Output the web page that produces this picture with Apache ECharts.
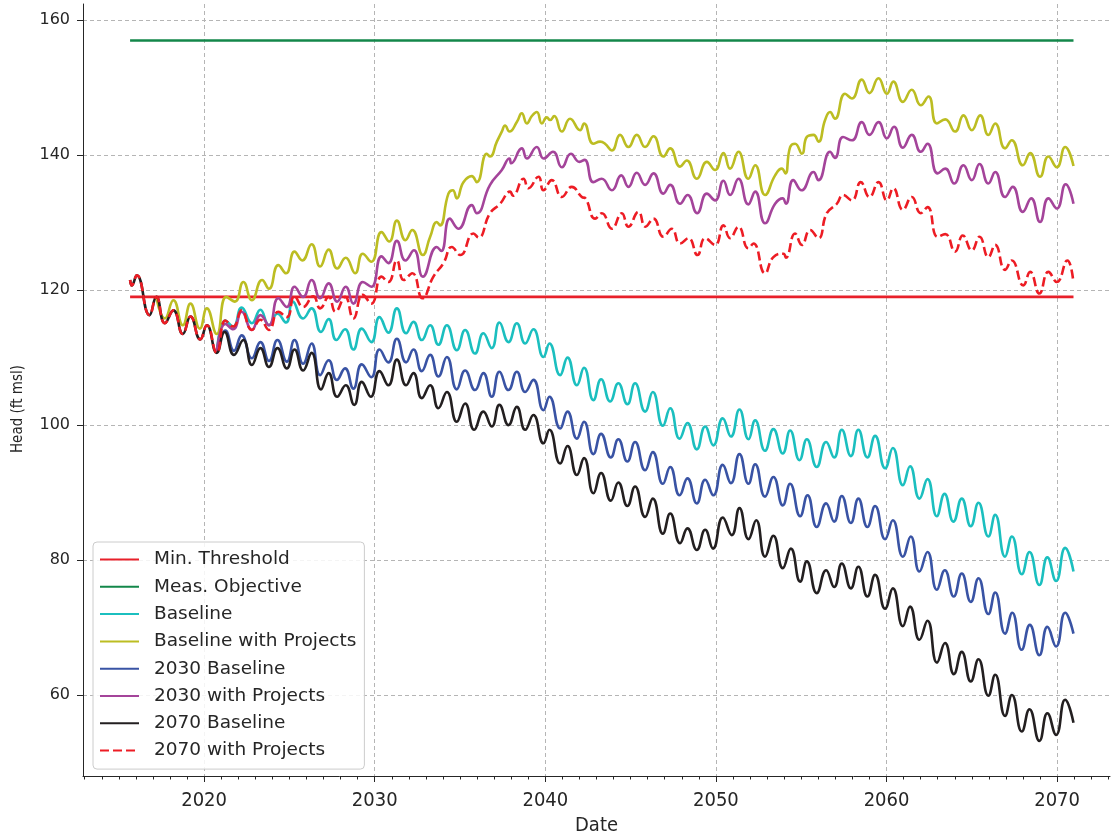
<!DOCTYPE html>
<html>
<head>
<meta charset="utf-8">
<title>Head</title>
<script src="https://cdn.jsdelivr.net/npm/echarts@6/dist/echarts.min.js"></script>
<style>
  html, body { margin: 0; padding: 0; background: #fff; }
  #chart { width: 1112px; height: 835px; }
</style>
</head>
<body>
<div id="chart"></div>
<script>
var xTicks = [2020, 2030, 2040, 2050, 2060, 2070]
var yTicks = [60, 80, 100, 120, 140, 160]
var yearTicks = []
for (var yr = 2013; yr <= 2073; yr++) yearTicks.push(yr)

var lineSpan = [2015.66, 2070.96]
var minThreshold = 119.0
var measObjective = 157.0

// shared measured record, used by both 2070 runs
var pastHeads = [[2015.66,121.5],[2015.76,120.7],[2016.05,122.2],[2016.8,116.3],[2017.2,119.0],[2017.7,115.1],
  [2018.2,117.0],[2018.75,113.5],[2019.2,116.1],[2019.77,112.7],[2020.16,114.8],[2020.74,110.7]]

var baseline = [[2020.74,110.7],[2021.25,115.5],[2021.7,114.6],[2022.2,117.4],[2022.8,115.1],[2023.3,117.1],[2023.8,114.8],
  [2024.3,116.5],[2024.8,115.2],[2025.2,118.3],[2025.8,115.8],[2026.3,117.3],[2026.85,113.8],[2027.3,115.7],[2027.75,112.6],
  [2028.26,114.2],[2028.75,111.2],[2029.24,114.3],[2029.8,112.3],[2030.28,116.0],[2030.8,113.7],[2031.3,117.3],[2031.84,113.6],
  [2032.27,115.3],[2032.76,112.6],[2033.25,114.8],[2033.73,111.9],[2034.23,114.8],[2034.81,111.1],[2035.3,114.1],[2035.88,110.6],
  [2036.37,113.6],[2036.86,111.4],[2037.31,115.2],[2037.84,112.3],[2038.33,115.1],[2038.82,112.1],[2039.3,114.2],[2039.89,110.1],
  [2040.24,112.1],[2040.87,107.4],[2041.3,110.0],[2041.85,105.9],[2042.27,108.5],[2042.82,103.7],[2043.27,106.8],[2043.8,103.5],
  [2044.28,106.2],[2044.81,103.1],[2045.26,106.2],[2045.85,102.0],[2046.3,104.9],[2046.89,99.9],[2047.32,102.5],[2047.87,98.0],
  [2048.33,100.3],[2048.88,96.4],[2049.37,99.8],[2049.85,97.0],[2050.4,101.0],[2050.88,98.3],[2051.38,102.3],[2051.91,97.9],
  [2052.3,100.7],[2052.88,96.2],[2053.37,99.4],[2053.92,95.8],[2054.35,99.2],[2054.9,94.8],[2055.33,97.9],[2055.91,93.8],
  [2056.46,97.5],[2056.93,95.2],[2057.38,99.3],[2057.91,95.4],[2058.35,99.3],[2058.88,95.2],[2059.33,98.4],[2059.92,93.6],
  [2060.37,96.6],[2060.96,91.1],[2061.38,93.9],[2061.93,89.1],[2062.4,92.0],[2062.95,86.5],[2063.4,89.8],[2063.92,85.7],
  [2064.41,89.1],[2064.94,85.0],[2065.39,88.5],[2065.97,83.5],[2066.37,86.7],[2066.95,80.5],[2067.35,83.5],[2067.93,77.9],
  [2068.38,81.2],[2068.96,76.3],[2069.43,80.4],[2069.94,76.9],[2070.47,81.8],[2070.96,78.3]]

var baselineProj = [[2017.2,119.0],[2017.7,115.8],[2018.2,118.5],[2018.75,114.8],[2019.2,118.0],[2019.75,114.3],[2020.16,117.3],
  [2020.74,113.5],[2021.3,119.0],[2021.8,118.3],[2022.3,121.2],[2022.8,118.5],[2023.4,121.5],[2023.8,120.2],[2024.35,123.7],
  [2024.8,122.5],[2025.3,125.7],[2025.75,124.4],[2026.3,126.8],[2026.8,123.5],[2027.3,126.0],[2027.8,123.2],[2028.3,124.8],
  [2028.85,122.5],[2029.3,125.4],[2029.8,124.2],[2030.4,128.6],[2030.85,127.2],[2031.3,130.3],[2031.8,127.4],[2032.2,128.9],
  [2032.82,125.2],[2033.25,127.9],[2033.64,130.1],[2033.83,129.6],[2034.32,134.3],[2034.58,134.8],[2034.81,133.6],[2035.2,136.0],
  [2035.69,136.9],[2035.98,136.0],[2036.57,140.2],[2036.76,139.8],[2037.16,142.0],[2037.45,143.5],[2037.64,144.4],[2037.9,143.5],
  [2038.33,144.9],[2038.62,146.2],[2038.92,144.7],[2039.21,145.8],[2039.5,146.4],[2039.8,144.7],[2040.09,145.6],[2040.28,145.2],
  [2040.52,145.8],[2040.97,143.5],[2041.45,145.4],[2042.04,143.7],[2042.27,144.7],[2042.82,141.7],[2043.21,142.0],[2043.5,141.7],
  [2043.9,140.7],[2044.38,143.0],[2044.87,141.2],[2045.36,143.0],[2045.85,141.2],[2046.34,142.8],[2046.92,139.8],[2047.32,141.0],
  [2047.9,138.3],[2048.29,139.2],[2048.88,136.5],[2049.47,139.0],[2049.95,137.8],[2050.44,140.3],[2050.83,138.0],[2051.32,140.5],
  [2051.9,136.5],[2052.3,138.5],[2052.88,134.1],[2053.47,137.0],[2053.86,138.0],[2054.07,137.3],[2054.35,141.2],[2054.64,141.7],
  [2055.04,140.2],[2055.33,142.7],[2055.72,143.0],[2056.01,142.0],[2056.4,145.2],[2056.69,146.4],[2056.98,145.4],[2057.57,149.1],
  [2057.97,148.4],[2058.55,151.2],[2059.0,149.2],[2059.53,151.4],[2060.02,149.1],[2060.4,150.9],[2060.96,147.9],[2061.48,149.7],
  [2062.01,147.4],[2062.46,148.7],[2062.95,144.7],[2063.44,145.3],[2064.02,143.5],[2064.51,145.9],[2065.0,143.7],[2065.49,145.9],
  [2065.97,143.0],[2066.37,144.7],[2066.95,141.0],[2067.34,142.2],[2067.99,138.5],[2068.42,140.3],[2069.0,136.8],[2069.49,139.8],
  [2069.98,138.2],[2070.47,141.2],[2070.96,138.4]]

var base2030 = [[2020.74,110.7],[2021.25,114.0],[2021.75,111.0],[2022.2,113.3],[2022.8,109.9],[2023.3,112.3],[2023.8,109.5],
  [2024.3,112.6],[2024.85,109.4],[2025.3,112.6],[2025.8,109.1],[2026.3,112.1],[2026.8,107.4],[2027.3,109.6],[2027.78,106.7],
  [2028.26,108.4],[2028.75,105.4],[2029.24,109.0],[2029.8,107.1],[2030.28,111.2],[2030.8,109.3],[2031.3,112.8],[2031.84,109.3],
  [2032.27,111.2],[2032.76,108.0],[2033.25,110.4],[2033.73,107.2],[2034.23,110.1],[2034.81,105.3],[2035.3,108.1],[2035.88,105.2],
  [2036.37,107.7],[2036.86,104.2],[2037.31,107.9],[2037.84,105.2],[2038.33,107.9],[2038.82,104.9],[2039.3,106.7],[2039.89,102.2],
  [2040.24,104.2],[2040.87,99.5],[2041.3,102.0],[2041.85,98.0],[2042.27,100.5],[2042.82,95.7],[2043.27,98.7],[2043.84,95.2],
  [2044.28,97.9],[2044.81,94.6],[2045.26,97.5],[2045.85,93.3],[2046.3,96.0],[2046.89,91.3],[2047.32,93.8],[2047.87,89.6],
  [2048.33,92.1],[2048.88,88.4],[2049.37,91.9],[2049.85,89.6],[2050.4,94.1],[2050.88,91.4],[2051.38,95.7],[2051.91,91.3],
  [2052.3,94.2],[2052.88,89.4],[2053.37,92.3],[2053.92,88.1],[2054.35,91.3],[2054.94,86.5],[2055.37,89.6],[2055.91,84.9],
  [2056.46,88.4],[2056.93,85.7],[2057.38,89.5],[2057.91,85.5],[2058.35,89.1],[2058.88,84.9],[2059.33,88.0],[2059.92,83.1],
  [2060.37,85.9],[2060.96,80.5],[2061.42,83.5],[2061.93,78.3],[2062.4,81.2],[2062.95,75.6],[2063.42,78.5],[2063.94,74.6],
  [2064.41,78.0],[2064.94,73.8],[2065.39,77.3],[2065.97,72.0],[2066.37,75.2],[2066.95,69.1],[2067.37,72.2],[2067.92,66.7],
  [2068.4,70.4],[2068.96,65.9],[2069.43,70.1],[2069.94,67.2],[2070.47,72.2],[2070.96,69.1]]

var proj2030 = [[2020.74,110.7],[2021.25,115.0],[2021.7,114.2],[2022.2,116.8],[2022.8,114.1],[2023.3,116.3],[2023.8,114.8],
  [2024.35,118.8],[2024.85,117.5],[2025.3,120.5],[2025.8,119.0],[2026.3,121.5],[2026.8,118.8],[2027.3,121.0],[2027.8,118.3],
  [2028.3,120.5],[2028.75,118.0],[2029.3,121.2],[2029.8,120.5],[2030.4,125.0],[2030.8,124.0],[2031.3,127.3],[2031.8,124.4],
  [2032.3,125.9],[2032.82,122.0],[2033.64,126.4],[2033.9,125.8],[2034.4,130.6],[2034.9,129.1],[2035.69,132.6],[2035.98,131.4],
  [2036.76,135.6],[2037.45,137.8],[2037.9,139.5],[2038.0,138.8],[2038.62,141.0],[2038.92,139.5],[2039.5,141.2],[2039.9,139.5],
  [2040.45,140.5],[2040.97,138.2],[2041.5,140.2],[2042.0,139.0],[2042.3,139.3],[2042.82,136.0],[2043.3,136.5],[2043.9,134.8],
  [2044.45,137.0],[2044.87,135.3],[2045.36,137.4],[2045.85,135.6],[2046.34,137.3],[2046.92,134.3],[2047.32,135.6],[2047.9,132.8],
  [2048.34,134.1],[2048.9,131.4],[2049.47,134.3],[2049.95,133.3],[2050.44,136.2],[2050.83,134.1],[2051.32,136.5],[2051.9,132.7],
  [2052.3,134.6],[2052.88,129.9],[2053.47,132.8],[2053.91,133.6],[2054.1,132.8],[2054.53,136.3],[2055.02,134.8],[2055.72,137.5],
  [2056.01,136.3],[2056.69,140.5],[2056.98,139.6],[2057.45,142.7],[2057.97,142.2],[2058.55,144.9],[2059.0,143.0],[2059.53,144.9],
  [2060.02,142.5],[2060.44,144.2],[2060.96,141.1],[2061.48,143.0],[2062.01,140.5],[2062.4,141.7],[2063.0,137.3],[2063.44,138.0],
  [2063.97,135.8],[2064.51,138.5],[2065.0,136.3],[2065.45,138.7],[2065.97,135.8],[2066.37,137.5],[2066.95,133.8],[2067.4,135.3],
  [2067.99,131.6],[2068.48,133.6],[2069.0,130.1],[2069.49,133.6],[2069.98,132.1],[2070.5,135.7],[2070.96,132.8]]

var base2070 = [[2021.2,113.8],[2021.75,110.4],[2022.3,112.6],[2022.8,108.9],[2023.3,111.4],[2023.8,108.6],[2024.3,111.4],
  [2024.85,108.4],[2025.3,111.2],[2025.8,108.1],[2026.3,110.7],[2026.85,105.3],[2027.3,107.7],[2027.8,104.2],[2028.3,105.9],
  [2028.8,103.0],[2029.24,106.4],[2029.77,104.2],[2030.28,108.0],[2030.8,105.9],[2031.3,109.7],[2031.84,105.9],[2032.27,107.7],
  [2032.76,104.0],[2033.25,105.9],[2033.73,102.5],[2034.23,104.9],[2034.81,100.5],[2035.3,103.2],[2035.83,99.3],[2036.37,102.0],
  [2036.86,99.8],[2037.31,103.0],[2037.84,100.0],[2038.33,102.7],[2038.82,99.3],[2039.3,101.5],[2039.89,97.3],[2040.24,99.3],
  [2040.87,94.3],[2041.3,96.9],[2041.85,92.6],[2042.27,95.1],[2042.82,89.9],[2043.27,92.9],[2043.84,88.8],[2044.28,91.5],
  [2044.81,88.0],[2045.26,90.9],[2045.85,86.4],[2046.3,89.1],[2046.89,83.9],[2047.32,86.9],[2047.9,82.5],[2048.33,84.7],
  [2048.88,81.5],[2049.37,84.5],[2049.83,81.7],[2050.4,86.3],[2050.93,83.7],[2051.38,87.7],[2051.91,83.1],[2052.36,85.9],
  [2052.88,80.5],[2053.37,83.6],[2053.92,78.8],[2054.39,81.7],[2054.94,76.8],[2055.33,79.8],[2055.91,75.1],[2056.46,78.5],
  [2056.93,76.0],[2057.38,79.5],[2057.91,75.8],[2058.35,79.0],[2058.88,74.6],[2059.33,77.8],[2059.92,72.8],[2060.37,75.8],
  [2060.96,70.2],[2061.38,73.1],[2061.93,68.2],[2062.4,71.0],[2062.96,64.8],[2063.43,67.7],[2063.95,63.1],[2064.41,66.4],
  [2064.94,62.0],[2065.39,65.3],[2065.97,59.9],[2066.37,63.0],[2066.95,56.9],[2067.35,60.0],[2067.93,54.6],[2068.38,57.9],
  [2068.96,53.2],[2069.43,57.3],[2069.94,54.1],[2070.47,59.3],[2070.96,55.9]]

var proj2070 = [[2021.25,115.5],[2021.7,114.6],[2022.2,117.0],[2022.8,114.1],[2023.3,115.6],[2023.8,114.1],[2024.35,116.8],
  [2024.85,116.0],[2025.3,119.1],[2025.8,117.5],[2026.4,119.1],[2026.8,117.3],[2027.3,119.0],[2027.7,116.8],[2028.26,119.0],
  [2028.75,115.8],[2029.3,119.3],[2029.8,118.0],[2030.4,122.0],[2030.8,121.2],[2031.3,124.4],[2031.7,121.5],[2032.2,122.5],
  [2032.8,118.8],[2033.44,122.0],[2034.03,124.0],[2034.52,126.4],[2035.01,125.2],[2035.79,128.4],[2036.08,127.8],[2036.76,131.4],
  [2037.35,132.8],[2037.94,134.6],[2038.1,134.0],[2038.72,136.5],[2039.01,135.1],[2039.6,136.8],[2039.89,134.8],[2040.38,136.3],
  [2040.97,133.8],[2041.55,135.3],[2042.14,133.8],[2042.35,133.6],[2042.92,130.6],[2043.31,131.4],[2043.9,129.1],[2044.48,131.4],
  [2044.87,129.4],[2045.46,131.6],[2045.87,129.4],[2046.34,130.6],[2046.92,127.9],[2047.41,129.1],[2047.9,126.9],[2048.39,127.7],
  [2048.92,125.2],[2049.37,127.7],[2049.95,126.7],[2050.44,129.6],[2050.83,127.7],[2051.32,129.4],[2051.9,126.2],[2052.2,126.9],
  [2052.88,122.5],[2053.37,124.9],[2053.96,125.4],[2054.1,124.8],[2054.64,128.4],[2055.04,126.7],[2055.52,128.9],[2056.01,127.7],
  [2056.5,131.4],[2057.09,132.8],[2057.45,134.1],[2057.97,133.3],[2058.49,136.0],[2059.0,133.8],[2059.53,136.0],[2060.02,133.3],
  [2060.4,135.1],[2060.96,131.9],[2061.48,133.8],[2062.01,131.4],[2062.4,132.3],[2063.0,127.9],[2063.44,128.3],[2064.02,125.7],
  [2064.47,128.1],[2065.0,125.9],[2065.45,127.9],[2065.97,124.9],[2066.37,126.7],[2066.95,123.0],[2067.34,124.4],[2068.02,120.7],
  [2068.42,122.7],[2068.96,119.5],[2069.49,122.7],[2069.98,121.2],[2070.6,124.4],[2070.93,121.7]]

var font = "'DejaVu Sans', sans-serif"
var narrow = "'DejaVu Sans Condensed', 'DejaVu Sans', sans-serif"
var ink = '#262626'

function line(name, color, data, dashed) {
    return {
        name: name,
        type: 'line',
        data: data,
        showSymbol: false,
        symbol: 'none',
        smooth: dashed === 'flat' ? false : 0.5,
        lineStyle: {
            color: color,
            width: 2.6,
            type: dashed === true ? [9, 4] : 'solid'
        },
        itemStyle: { color: color },
        emphasis: { disabled: true }
    }
}

var chart = echarts.init(document.getElementById('chart'))
chart.setOption({
    animation: false,
    backgroundColor: '#fff',
    grid: { left: 83, right: 2, top: 4, bottom: 59, outerBoundsMode: 'none', containLabel: false },
    graphic: [{
        type: 'text',
        x: 18,
        y: 409,
        rotation: Math.PI / 2,
        style: {
            text: 'Head (ft msl)',
            fill: ink,
            font: "15px 'Liberation Sans Narrow', 'DejaVu Sans Condensed', sans-serif",
            align: 'center',
            verticalAlign: 'middle'
        }
    }],
    legend: {
        orient: 'vertical',
        left: 93,
        top: 542,
        itemWidth: 39,
        itemHeight: 14,
        itemGap: 8.3,
        padding: [8, 8, 9, 6],
        backgroundColor: 'rgba(255,255,255,0.85)',
        borderColor: '#cccccc',
        borderWidth: 1,
        borderRadius: 4,
        itemStyle: { opacity: 0, borderWidth: 0 },
        textStyle: { fontFamily: font, fontSize: 18.5, color: ink, padding: [0, 0, 0, 10] },
        data: ['Min. Threshold', 'Meas. Objective', 'Baseline', 'Baseline with Projects',
            '2030 Baseline', '2030 with Projects', '2070 Baseline', '2070 with Projects']
    },
    xAxis: [{
        type: 'value',
        min: 2012.9,
        max: 2073.1,
        name: 'Date',
        nameLocation: 'middle',
        nameGap: 38,
        nameTextStyle: { fontFamily: narrow, fontSize: 20, color: ink },
        axisLine: { show: true, lineStyle: { color: ink, width: 1 } },
        axisTick: { show: true, length: 6, customValues: xTicks, lineStyle: { color: ink } },
        axisLabel: {
            customValues: xTicks, margin: 15, fontFamily: narrow, fontSize: 20, color: ink,
            formatter: function (v) { return String(v) }
        },
        splitLine: { show: true, lineStyle: { color: '#b5b5b5', type: [4, 3], width: 1 } }
    }, {
        type: 'value',
        min: 2012.9,
        max: 2073.1,
        position: 'bottom',
        axisLine: { show: false },
        axisTick: { show: true, length: 3.5, customValues: yearTicks, lineStyle: { color: ink } },
        axisLabel: { show: false },
        splitLine: { show: false }
    }],
    yAxis: {
        type: 'value',
        min: 48,
        max: 162.4,
        axisLine: { show: true, lineStyle: { color: ink, width: 1 } },
        axisTick: { show: true, length: 6, customValues: yTicks, lineStyle: { color: ink } },
        axisLabel: { customValues: yTicks, margin: 13, fontFamily: font, fontSize: 16, color: ink },
        splitLine: { show: true, lineStyle: { color: '#b5b5b5', type: [4, 3], width: 1 } }
    },
    series: [
        line('Min. Threshold', '#e8202a', [[lineSpan[0], minThreshold], [lineSpan[1], minThreshold]], 'flat'),
        line('Meas. Objective', '#13874a', [[lineSpan[0], measObjective], [lineSpan[1], measObjective]], 'flat'),
        line('Baseline', '#1bbfbf', baseline),
        line('Baseline with Projects', '#bcbd22', baselineProj),
        line('2030 Baseline', '#3953a4', base2030),
        line('2030 with Projects', '#a4449a', proj2030),
        line('2070 Baseline', '#231f20', pastHeads.concat(base2070)),
        line('2070 with Projects', '#ed1c24', pastHeads.concat(proj2070), true)
    ]
})
</script>
</body>
</html>
